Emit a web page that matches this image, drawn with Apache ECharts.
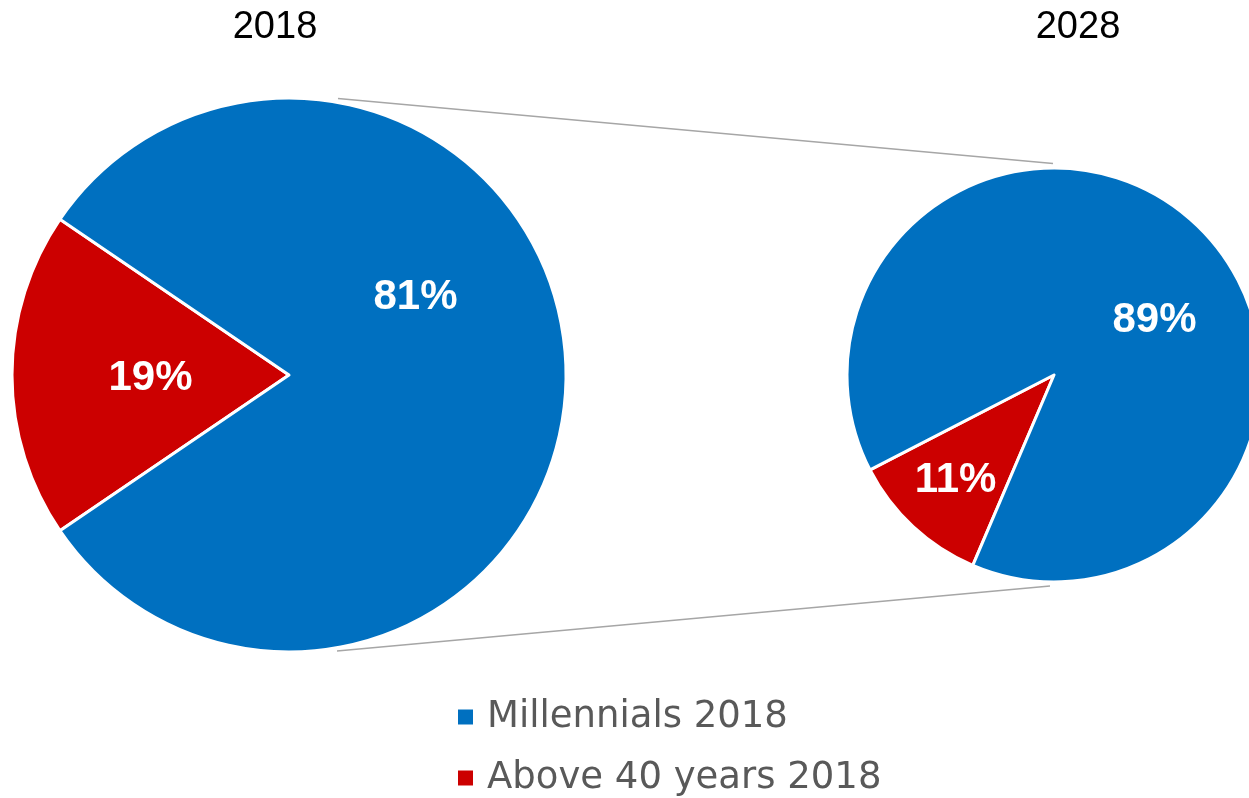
<!DOCTYPE html>
<html>
<head>
<meta charset="utf-8">
<script src="https://cdn.jsdelivr.net/npm/echarts@6/dist/echarts.min.js"></script>
<style>
html,body{margin:0;padding:0;background:#fff;}
#chart{width:1249px;height:798px;}
</style>
</head>
<body>
<div id="chart"></div>
<script>
// ---- data ----
const pieTitles = ['2018', '2028'];
const categories2018 = ['Above 40 years 2018', 'Millennials 2018'];
const values2018 = [19, 81];
const categories2028 = ['Above 40 years 2028', 'Millennials 2028'];
const values2028 = [11, 89];
const legendNames = ['Millennials 2018', 'Above 40 years 2018'];

// ---- styles / layout ----
const FONT = 'Arial, "Liberation Sans", sans-serif';
const BLUE = '#0070C0';
const RED = '#CC0000';
const sliceColors = [RED, BLUE];
const leftPie = { center: [289, 375], r: 277 };
const rightPie = { center: [1054, 375], r: 207 };
// label nudges (per slice, by index) to match the original placement
const leftLabelShift = [[3, 3], [-15, -78]];
const rightLabelShift = [[-26, 27], [28, 23]];

function toData(names, vals) {
  return names.map((n, i) => ({ name: n, value: vals[i], itemStyle: { color: sliceColors[i] } }));
}

const labelStyle = {
  show: true,
  position: 'inside',
  formatter: p => p.value + '%',
  color: '#fff',
  fontFamily: FONT,
  fontWeight: 'bold',
  fontSize: 42
};

const chart = echarts.init(document.getElementById('chart'), null, { renderer: 'canvas' });
chart.setOption({
  animation: false,
  backgroundColor: '#fff',
  title: [
    { text: pieTitles[0], left: 275, top: 9, textAlign: 'center', padding: 0,
      textStyle: { fontFamily: FONT, fontSize: 38, fontWeight: 'normal', color: '#000' } },
    { text: pieTitles[1], left: 1078, top: 9, textAlign: 'center', padding: 0,
      textStyle: { fontFamily: FONT, fontSize: 38, fontWeight: 'normal', color: '#000' } }
  ],
  legend: {
    data: legendNames,
    orient: 'vertical',
    left: 456,
    top: 697,
    padding: 0,
    itemWidth: 17,
    itemHeight: 17,
    itemGap: 21,
    icon: 'rect',
    textStyle: { fontFamily: '"DejaVu Sans", sans-serif', fontSize: 37, color: '#595959', lineHeight: 40, padding: [0, 0, 0, 8] },
    selectedMode: false
  },
  graphic: [
    { type: 'line', shape: { x1: 338, y1: 98.5, x2: 1053, y2: 163.5 },
      style: { stroke: '#A6A6A6', lineWidth: 1.5 }, z: 0 },
    { type: 'line', shape: { x1: 337, y1: 651, x2: 1050, y2: 586 },
      style: { stroke: '#A6A6A6', lineWidth: 1.5 }, z: 0 }
  ],
  series: [
    {
      type: 'pie',
      center: leftPie.center,
      radius: [0, leftPie.r],
      startAngle: 180 + values2018[0] / 100 * 180,
      clockwise: true,
      data: toData(categories2018, values2018),
      itemStyle: { borderColor: '#fff', borderWidth: 3 },
      label: labelStyle,
      labelLine: { show: false },
      emphasis: { disabled: true },
      labelLayout: p => ({ dx: leftLabelShift[p.dataIndex][0], dy: leftLabelShift[p.dataIndex][1] }),
      z: 2
    },
    {
      type: 'pie',
      center: rightPie.center,
      radius: [0, rightPie.r],
      startAngle: 227.1 + values2028[0] / 100 * 180,
      clockwise: true,
      data: toData(categories2028, values2028),
      itemStyle: { borderColor: '#fff', borderWidth: 3 },
      label: labelStyle,
      labelLine: { show: false },
      emphasis: { disabled: true },
      labelLayout: p => ({ dx: rightLabelShift[p.dataIndex][0], dy: rightLabelShift[p.dataIndex][1] }),
      z: 2
    }
  ]
});
</script>
</body>
</html>
